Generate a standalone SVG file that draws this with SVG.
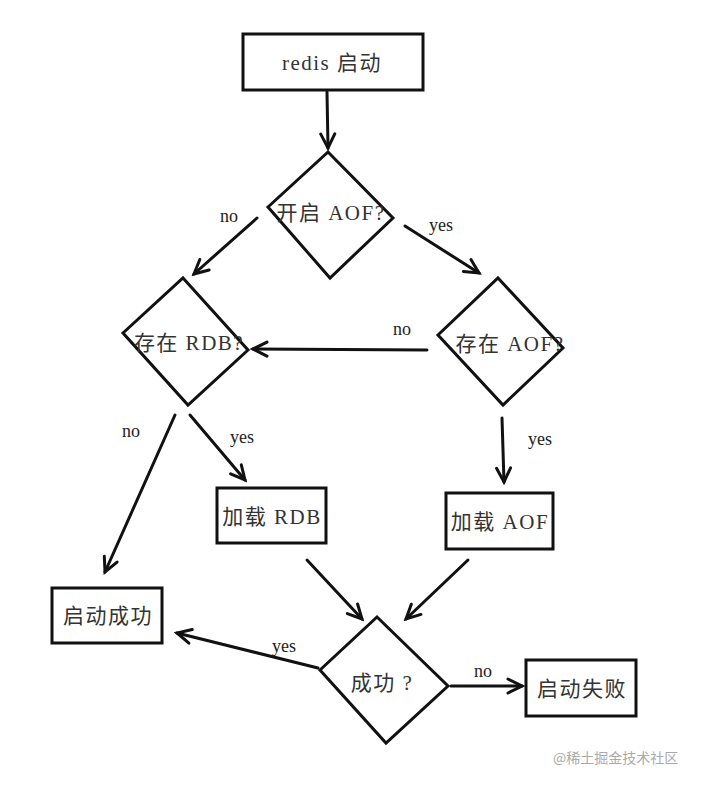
<svg xmlns="http://www.w3.org/2000/svg" width="706" height="788" viewBox="0 0 706 788">
<defs>
<marker id="ah" viewBox="0 0 20 20" refX="17" refY="10" markerWidth="20" markerHeight="20" markerUnits="userSpaceOnUse" orient="auto">
<path d="M3,3 L17,10 L3,17" fill="none" stroke="#111" stroke-width="3" stroke-linejoin="miter" stroke-linecap="round"/>
</marker>
<style>
.box{fill:#fff;stroke:#111;stroke-width:3}
.dia{fill:#fff;stroke:#111;stroke-width:3;stroke-linejoin:miter}
.t{font-family:"Liberation Serif","Noto Sans CJK SC",serif;font-size:21px;fill:#333;text-anchor:middle;letter-spacing:1.5px}
.lbl{font-family:"Liberation Serif","Noto Sans CJK SC",serif;font-size:18px;fill:#222;text-anchor:middle}
.c{fill:none;stroke:#111;stroke-width:3;stroke-linecap:round;marker-end:url(#ah)}
.wm{font-family:"Noto Sans CJK SC","Noto Sans",sans-serif;font-size:14px;fill:#aaa}
</style>
</defs>
<rect width="706" height="788" fill="#fff"/>
<g id="connectors">
<path class="c" d="M327,92 L328,148"/>
<path class="c" d="M257,218 L194,274"/>
<path class="c" d="M405,226 L479,273"/>
<path class="c" d="M427,350 L253,349"/>
<path class="c" d="M175,415 L105,572"/>
<path class="c" d="M190,415 L245,480"/>
<path class="c" d="M502,418 L504,482"/>
<path class="c" d="M307,560 L362,619"/>
<path class="c" d="M468,560 L406,619"/>
<path class="c" d="M318,668 L177,633"/>
<path class="c" d="M451,686 L522,686"/>
<text class="lbl" x="229" y="222">no</text>
<text class="lbl" x="441" y="231">yes</text>
<text class="lbl" x="402" y="335">no</text>
<text class="lbl" x="131" y="437">no</text>
<text class="lbl" x="242" y="443">yes</text>
<text class="lbl" x="540" y="445">yes</text>
<text class="lbl" x="284" y="652">yes</text>
<text class="lbl" x="483" y="677">no</text>
</g>
<g id="n-start">
<rect class="box" x="243" y="34" width="180" height="56"/>
<text class="t" x="332" y="70">redis 启动</text>
</g>
<g id="n-aof-on">
<polygon class="dia" points="328,152 393,218 330,278 268,207"/>
<text class="t" x="331" y="220">开启 AOF?</text>
</g>
<g id="n-rdb-exists">
<polygon class="dia" points="183,278 248,350 188,405 123,333"/>
<text class="t" x="189" y="350">存在 RDB?</text>
</g>
<g id="n-aof-exists">
<polygon class="dia" points="498,278 563,348 503,405 438,335"/>
<text class="t" x="510" y="351">存在 AOF?</text>
</g>
<g id="n-load-rdb">
<rect class="box" x="217" y="488" width="109" height="55"/>
<text class="t" x="272" y="524">加载 RDB</text>
</g>
<g id="n-load-aof">
<rect class="box" x="446" y="493" width="107" height="56"/>
<text class="t" x="500" y="529">加载 AOF</text>
</g>
<g id="n-ok">
<rect class="box" x="52" y="588" width="110" height="55"/>
<text class="t" x="108" y="623">启动成功</text>
</g>
<g id="n-success">
<polygon class="dia" points="377,617 448,686 386,743 320,670"/>
<text class="t" x="382" y="690">成功 ?</text>
</g>
<g id="n-fail">
<rect class="box" x="526" y="660" width="110" height="56"/>
<text class="t" x="582" y="696">启动失败</text>
</g>
<text class="wm" x="553" y="763">@稀土掘金技术社区</text>
</svg>
